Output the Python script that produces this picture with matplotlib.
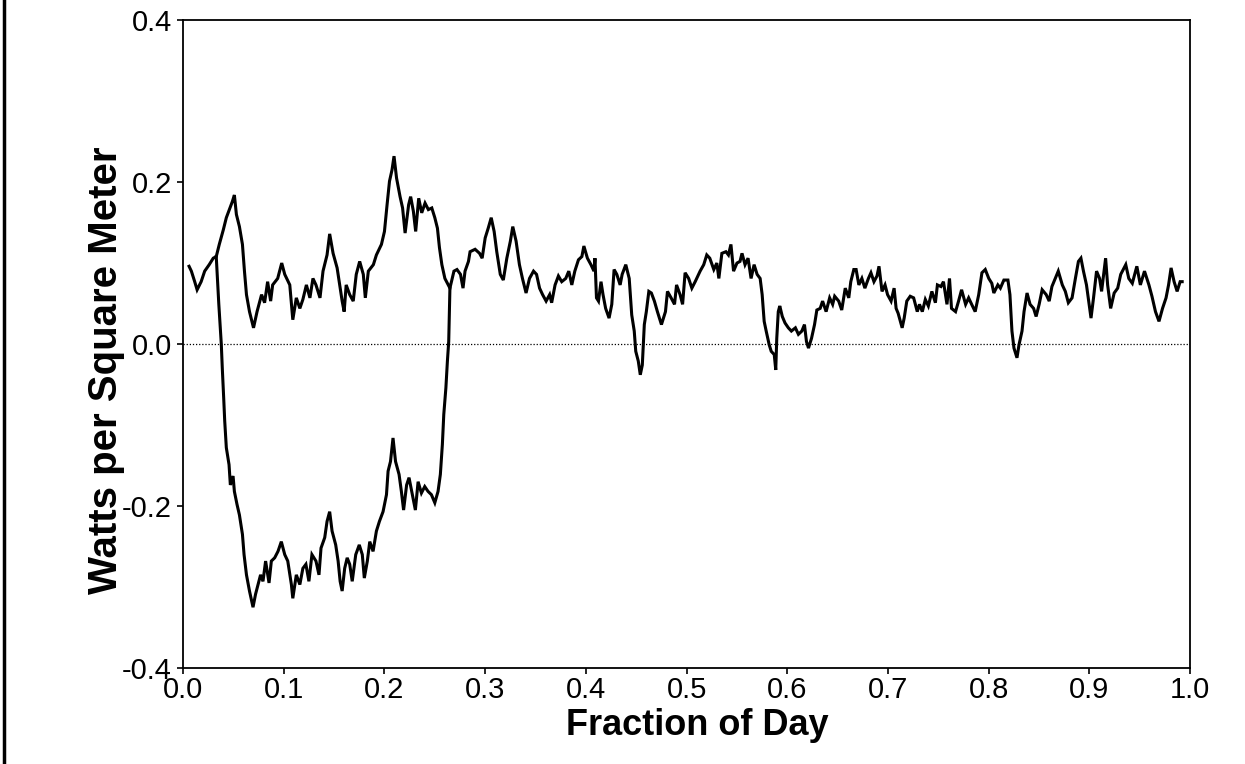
import matplotlib
matplotlib.use("Agg")
import matplotlib.pyplot as plt
from matplotlib.lines import Line2D

# upper trace (full day)
day_x = [0.006, 0.0083, 0.0116, 0.014, 0.018, 0.0215, 0.026, 0.030, 0.033, 0.036,
         0.040, 0.043, 0.046, 0.049, 0.051, 0.053, 0.056, 0.059, 0.061, 0.063,
         0.066, 0.070, 0.0735, 0.078, 0.081, 0.084, 0.087, 0.089, 0.094, 0.098,
         0.101, 0.106, 0.109, 0.1125, 0.116, 0.119, 0.1225, 0.126, 0.129, 0.132,
         0.136, 0.139, 0.143, 0.1456, 0.149, 0.153, 0.1556, 0.158, 0.160, 0.162,
         0.1655, 0.169, 0.172, 0.1754, 0.179, 0.181, 0.184, 0.189, 0.192, 0.197,
         0.200, 0.2026, 0.205, 0.2075, 0.2095, 0.212, 0.2155, 0.218, 0.2205, 0.224,
         0.226, 0.2287, 0.231, 0.234, 0.237, 0.2403, 0.2436, 0.247, 0.250, 0.2526,
         0.2546, 0.257, 0.260, 0.265, 0.269, 0.272, 0.2755, 0.278, 0.280, 0.2834,
         0.285, 0.290, 0.2944, 0.297, 0.300, 0.303, 0.306, 0.3089, 0.3115, 0.315,
         0.318, 0.3215, 0.325, 0.3274, 0.3307, 0.334, 0.337, 0.3406, 0.344, 0.348,
         0.351, 0.354, 0.357, 0.3605, 0.364, 0.366, 0.3694, 0.3727, 0.376, 0.380,
         0.383, 0.386, 0.389, 0.3926, 0.396, 0.398, 0.4015, 0.405, 0.408, 0.409,
         0.4105, 0.4125, 0.415, 0.417, 0.4196, 0.423, 0.4257, 0.428, 0.4307, 0.434,
         0.436, 0.4396, 0.443, 0.4455, 0.448, 0.4495, 0.452, 0.454, 0.456, 0.458,
         0.460, 0.4625, 0.465, 0.468, 0.471, 0.475, 0.479, 0.481, 0.4846, 0.488,
         0.490, 0.4935, 0.496, 0.4985, 0.502, 0.5052, 0.5085, 0.5134, 0.517, 0.520,
         0.523, 0.527, 0.530, 0.532, 0.535, 0.539, 0.5415, 0.544, 0.5466, 0.550,
         0.553, 0.555, 0.558, 0.561, 0.564, 0.567, 0.570, 0.573, 0.575, 0.577,
         0.579, 0.582, 0.584, 0.587, 0.5885, 0.5895, 0.591, 0.5925, 0.595, 0.5977,
         0.601, 0.604, 0.608, 0.611, 0.6144, 0.617, 0.619, 0.621, 0.624, 0.627,
         0.6293, 0.6326, 0.635, 0.6385, 0.642, 0.645, 0.647, 0.651, 0.654, 0.6575,
         0.661, 0.663, 0.666, 0.6683, 0.671, 0.674, 0.677, 0.6805, 0.683, 0.686,
         0.689, 0.691, 0.694, 0.697, 0.6995, 0.703, 0.706, 0.708, 0.710, 0.714,
         0.716, 0.7186, 0.722, 0.7254, 0.729, 0.7312, 0.734, 0.737, 0.740, 0.7435,
         0.747, 0.749, 0.7525, 0.755, 0.7585, 0.761, 0.763, 0.767, 0.770, 0.773,
         0.777, 0.780, 0.783, 0.7865, 0.790, 0.7932, 0.7965, 0.800, 0.803, 0.805,
         0.809, 0.8115, 0.815, 0.819, 0.821, 0.823, 0.825, 0.828, 0.830, 0.833,
         0.835, 0.838, 0.841, 0.8445, 0.847, 0.850, 0.853, 0.857, 0.860, 0.8627,
         0.866, 0.869, 0.873, 0.876, 0.879, 0.8827, 0.886, 0.889, 0.8915, 0.894,
         0.897, 0.899, 0.9015, 0.904, 0.907, 0.910, 0.912, 0.916, 0.918, 0.921,
         0.9245, 0.928, 0.931, 0.936, 0.939, 0.9425, 0.947, 0.9505, 0.9546, 0.959,
         0.962, 0.9655, 0.969, 0.9725, 0.976, 0.9785, 0.981, 0.984, 0.987, 0.990,
         0.992]
day_y = [0.096, 0.090, 0.077, 0.067, 0.077, 0.090, 0.098, 0.106, 0.108, 0.123,
         0.141, 0.156, 0.166, 0.176, 0.184, 0.160, 0.145, 0.123, 0.090, 0.061,
         0.040, 0.020, 0.040, 0.061, 0.051, 0.077, 0.053, 0.073, 0.081, 0.100,
         0.086, 0.073, 0.030, 0.057, 0.044, 0.055, 0.073, 0.057, 0.081, 0.073,
         0.057, 0.090, 0.110, 0.136, 0.112, 0.094, 0.073, 0.053, 0.040, 0.073,
         0.061, 0.053, 0.086, 0.102, 0.086, 0.057, 0.090, 0.098, 0.110, 0.123,
         0.139, 0.172, 0.201, 0.215, 0.232, 0.205, 0.182, 0.168, 0.137, 0.172,
         0.182, 0.164, 0.139, 0.180, 0.162, 0.174, 0.166, 0.168, 0.156, 0.143,
         0.119, 0.098, 0.081, 0.069, 0.090, 0.092, 0.086, 0.069, 0.090, 0.102,
         0.114, 0.117, 0.112, 0.106, 0.131, 0.143, 0.156, 0.139, 0.114, 0.086,
         0.079, 0.106, 0.127, 0.145, 0.127, 0.098, 0.081, 0.063, 0.081, 0.090,
         0.086, 0.069, 0.061, 0.053, 0.061, 0.051, 0.073, 0.084, 0.077, 0.081,
         0.090, 0.073, 0.090, 0.104, 0.108, 0.121, 0.106, 0.098, 0.090, 0.106,
         0.057, 0.053, 0.077, 0.061, 0.044, 0.032, 0.049, 0.092, 0.086, 0.073,
         0.086, 0.098, 0.081, 0.036, 0.016, -0.009, -0.021, -0.038, -0.026, 0.024,
         0.040, 0.065, 0.063, 0.053, 0.040, 0.024, 0.040, 0.065, 0.057, 0.049,
         0.073, 0.061, 0.049, 0.088, 0.081, 0.069, 0.077, 0.090, 0.098, 0.110,
         0.106, 0.092, 0.100, 0.081, 0.112, 0.114, 0.110, 0.123, 0.090, 0.100,
         0.102, 0.112, 0.098, 0.106, 0.081, 0.098, 0.086, 0.081, 0.061, 0.028,
         0.016, -0.001, -0.009, -0.013, -0.032, 0.007, 0.040, 0.047, 0.034, 0.026,
         0.020, 0.016, 0.020, 0.012, 0.016, 0.024, 0.003, -0.005, 0.007, 0.024,
         0.042, 0.044, 0.053, 0.040, 0.057, 0.049, 0.059, 0.053, 0.042, 0.069,
         0.057, 0.077, 0.092, 0.092, 0.073, 0.081, 0.069, 0.081, 0.088, 0.077,
         0.084, 0.096, 0.065, 0.073, 0.061, 0.053, 0.069, 0.044, 0.038, 0.020,
         0.032, 0.053, 0.059, 0.057, 0.040, 0.049, 0.040, 0.055, 0.047, 0.065,
         0.051, 0.073, 0.071, 0.077, 0.049, 0.081, 0.044, 0.040, 0.053, 0.067,
         0.049, 0.057, 0.049, 0.040, 0.061, 0.088, 0.092, 0.081, 0.075, 0.063,
         0.073, 0.069, 0.079, 0.079, 0.061, 0.016, -0.005, -0.017, -0.001, 0.016,
         0.040, 0.063, 0.049, 0.044, 0.034, 0.049, 0.067, 0.061, 0.053, 0.071,
         0.081, 0.090, 0.073, 0.065, 0.051, 0.057, 0.081, 0.102, 0.106, 0.090,
         0.073, 0.055, 0.032, 0.057, 0.090, 0.081, 0.065, 0.106, 0.073, 0.044,
         0.063, 0.069, 0.086, 0.098, 0.081, 0.075, 0.096, 0.073, 0.090, 0.073,
         0.059, 0.040, 0.028, 0.044, 0.057, 0.073, 0.094, 0.077, 0.065, 0.077,
         0.077]

# lower trace (branch between ~0.033 and ~0.265)
low_x = [0.033, 0.0355, 0.038, 0.039, 0.0404, 0.0414, 0.043, 0.0457, 0.047, 0.0497,
         0.051, 0.0536, 0.056, 0.059, 0.0606, 0.063, 0.066, 0.0695, 0.072, 0.0745,
         0.077, 0.0794, 0.082, 0.0854, 0.0877, 0.091, 0.0943, 0.0976, 0.101, 0.104,
         0.1076, 0.109, 0.1125, 0.116, 0.119, 0.122, 0.125, 0.128, 0.132, 0.135,
         0.137, 0.1407, 0.143, 0.1456, 0.148, 0.1516, 0.154, 0.156, 0.158, 0.1605,
         0.163, 0.1655, 0.168, 0.1715, 0.175, 0.178, 0.180, 0.183, 0.1854, 0.1887,
         0.192, 0.195, 0.1986, 0.202, 0.2036, 0.206, 0.2085, 0.211, 0.2145, 0.2168,
         0.219, 0.222, 0.2244, 0.2277, 0.2307, 0.2334, 0.2367, 0.240, 0.2433, 0.2466,
         0.250, 0.2532, 0.2555, 0.2575, 0.2589, 0.261, 0.2625, 0.2638, 0.265]
low_y = [0.108, 0.050, 0.000, -0.030, -0.067, -0.095, -0.128, -0.149, -0.174, -0.163,
         -0.182, -0.198, -0.211, -0.235, -0.260, -0.285, -0.305, -0.325, -0.309, -0.297,
         -0.285, -0.293, -0.268, -0.295, -0.268, -0.264, -0.256, -0.244, -0.260, -0.268,
         -0.297, -0.314, -0.285, -0.297, -0.277, -0.272, -0.293, -0.260, -0.268, -0.285,
         -0.252, -0.239, -0.219, -0.207, -0.231, -0.248, -0.268, -0.293, -0.305, -0.277,
         -0.264, -0.272, -0.293, -0.260, -0.248, -0.260, -0.289, -0.268, -0.244, -0.256,
         -0.231, -0.219, -0.207, -0.186, -0.157, -0.145, -0.116, -0.145, -0.161, -0.182,
         -0.205, -0.174, -0.165, -0.186, -0.205, -0.170, -0.184, -0.176, -0.182, -0.186,
         -0.196, -0.182, -0.161, -0.124, -0.087, -0.054, -0.021, 0.003, 0.069]

x_ticks = [0.0, 0.1, 0.2, 0.3, 0.4, 0.5, 0.6, 0.7, 0.8, 0.9, 1.0]
y_ticks = [-0.4, -0.2, 0.0, 0.2, 0.4]

plt.rcParams['font.family'] = ['Liberation Sans', 'DejaVu Sans']

fig = plt.figure(figsize=(12.45, 7.64), dpi=100)
ax = fig.add_axes([0.147, 0.1257, 0.809, 0.848])

ax.axhline(0.0, color='black', lw=0.9, ls=(0, (1, 1.5)))
ax.plot(day_x, day_y, color='black', lw=2.2, solid_joinstyle='miter')
ax.plot(low_x, low_y, color='black', lw=2.2, solid_joinstyle='miter')

ax.set_xlim(0.0, 1.0)
ax.set_ylim(-0.4, 0.4)
ax.set_xticks(x_ticks)
ax.set_xticklabels(["%.1f" % v for v in x_ticks])
ax.set_yticks(y_ticks)
ax.set_yticklabels(["%.1f" % v for v in y_ticks])
ax.tick_params(labelsize=21, length=4, width=1.2, direction='out', pad=4)
ax.tick_params(axis='x', pad=2)
for s in ax.spines.values():
    s.set_linewidth(1.3)

ax.set_xlabel("Fraction of Day", fontsize=26, fontweight='bold')
ax.set_ylabel("Watts per Square Meter", fontsize=29, fontweight='bold')
ax.xaxis.set_label_coords(0.511, -0.062)
ax.yaxis.set_label_coords(-0.058, 0.46)

# frame edge at left of scanned page
fig.add_artist(Line2D([0.003, 0.003], [0.0, 1.0], color='black', lw=2.5,
                      transform=fig.transFigure))

fig.savefig("out.png", dpi=100)
